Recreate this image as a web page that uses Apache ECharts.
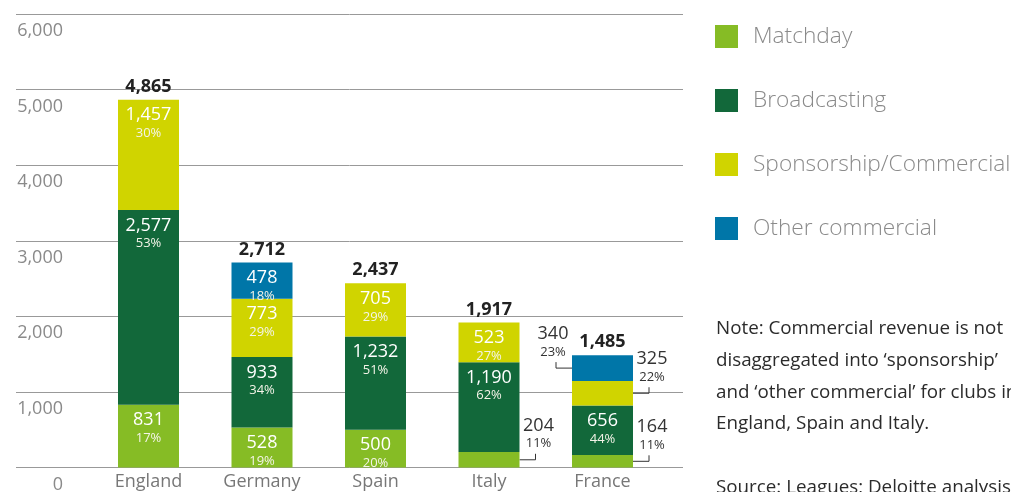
<!DOCTYPE html>
<html>
<head>
<meta charset="utf-8">
<script src="https://cdn.jsdelivr.net/npm/echarts@6/dist/echarts.min.js"></script>
<style>
html, body { margin: 0; padding: 0; background: #fff; }
#chart { width: 1011px; height: 492px; }
</style>
</head>
<body>
<div id="chart"></div>
<script>
// data (EUR m)
var categories = ['England', 'Germany', 'Spain', 'Italy', 'France'];
var seriesNames = ['Matchday', 'Broadcasting', 'Sponsorship/Commercial', 'Other commercial'];
var matchday = [831, 528, 500, 204, 164];
var broadcasting = [2577, 933, 1232, 1190, 656];
var sponsorship = [1457, 773, 705, 523, 325];
var otherCommercial = [null, 478, null, null, 340];
var matchdayPct = [17, 19, 20, 11, 11];
var broadcastingPct = [53, 34, 51, 62, 44];
var sponsorshipPct = [30, 29, 29, 27, 22];
var otherPct = [null, 18, null, null, 23];
var yTicks = [0, 1000, 2000, 3000, 4000, 5000, 6000];
var noteLines = [
  'Note: Commercial revenue is not',
  'disaggregated into \u2018sponsorship\u2019',
  'and \u2018other commercial\u2019 for clubs in',
  'England, Spain and Italy.',
  '',
  'Source: Leagues; Deloitte analysis'
];

var colors = ['#86bc25', '#12683a', '#d0d400', '#0076a8'];
var values = [matchday, broadcasting, sponsorship, otherCommercial];
var pcts = [matchdayPct, broadcastingPct, sponsorshipPct, otherPct];
var SMALL = 400; // segments below this get an outside label
var FONT = '"Open Sans", "DejaVu Sans", sans-serif';

function fmt(n) { return n.toLocaleString('en-US'); }

var totals = categories.map(function(c, i) {
  var s = 0;
  values.forEach(function(arr) { s += arr[i] || 0; });
  return s;
});

var chart = echarts.init(document.getElementById('chart'));

var series = seriesNames.map(function(name, k) {
  return {
    name: name,
    type: 'bar',
    stack: 'rev',
    xAxisIndex: 1,
    yAxisIndex: 1,
    barWidth: 61,
    itemStyle: { color: colors[k] },
    label: {
      position: 'insideTop',
      distance: 6,
      fontFamily: FONT,
      formatter: function(p) {
        return '{v|' + fmt(p.value) + '}\n{p|' + pcts[k][p.dataIndex] + '%}';
      },
      rich: {
        v: { fontSize: 18, lineHeight: 19, color: '#fff', fontFamily: FONT },
        p: { fontSize: 13, lineHeight: 17, color: '#f4f4e8', fontFamily: FONT }
      }
    },
    data: values[k].map(function(v) {
      return { value: v, label: { show: v != null && v >= SMALL } };
    })
  };
});

// invisible zero bar on top of each stack, carries the total
series.push({
  name: 'Total',
  type: 'bar',
  stack: 'rev',
  xAxisIndex: 1,
  yAxisIndex: 1,
  barWidth: 61,
  itemStyle: { color: 'transparent' },
  label: {
    show: true,
    position: 'top',
    distance: 4,
    fontFamily: FONT,
    fontSize: 18,
    fontWeight: 'bold',
    color: '#222',
    formatter: function(p) { return fmt(totals[p.dataIndex]); }
  },
  data: totals.map(function() { return 0; })
});

var option = {
  animation: false,
  grid: [
    { left: 16, right: 328, top: 14, bottom: 24.5, outerBoundsMode: 'none' },
    { left: 91.75, right: 351.75, top: 14, bottom: 24.5, outerBoundsMode: 'none' }
  ],
  legend: {
    orient: 'vertical',
    left: 715,
    top: 25,
    padding: 0,
    icon: 'rect',
    itemWidth: 23,
    itemHeight: 23,
    itemGap: 41,
    selectedMode: false,
    data: seriesNames,
    textStyle: {
      fontFamily: FONT,
      fontSize: 22.7,
      fontWeight: 300,
      lineHeight: 23,
      color: '#8a8a8a',
      padding: [0, 0, 0, 10]
    }
  },
  xAxis: [
    { type: 'category', gridIndex: 0, show: false, data: categories },
    {
      type: 'category',
      gridIndex: 1,
      data: categories,
      axisLine: { show: false },
      axisTick: { show: false },
      axisLabel: { color: '#777', fontSize: 18, fontFamily: FONT, margin: 5 }
    }
  ],
  yAxis: [
    {
      type: 'value',
      gridIndex: 0,
      min: yTicks[0],
      max: yTicks[yTicks.length - 1],
      interval: yTicks[1] - yTicks[0],
      axisLine: { show: false },
      axisTick: { show: false },
      splitLine: { lineStyle: { color: '#999', width: 1 } },
      axisLabel: {
        inside: true,
        margin: 47,
        align: 'right',
        verticalAlign: 'top',
        padding: [8, 0, 0, 0],
        color: '#8a8a8a',
        fontSize: 18,
        fontFamily: FONT,
        formatter: function(v) { return fmt(v); }
      }
    },
    {
      type: 'value',
      gridIndex: 1,
      min: yTicks[0],
      max: yTicks[yTicks.length - 1],
      show: false,
      splitLine: { show: false }
    }
  ],
  series: series
};

chart.setOption(option);

// outside labels with little elbow connectors for the thin segments
var graphics = [];
categories.forEach(function(cat, i) {
  var base = 0;
  values.forEach(function(arr, k) {
    var v = arr[i];
    if (v == null) return;
    if (v < SMALL) {
      var mid = chart.convertToPixel({ xAxisIndex: 1, yAxisIndex: 1 }, [i, base + v / 2]);
      var left = k === 3; // other commercial goes on the left
      var edge = mid[0] + (left ? -30.5 : 30.5);
      var cx = edge + (left ? -16 : 16);
      var y = mid[1];
      graphics.push({
        type: 'polyline',
        shape: { points: [[edge, y], [cx, y], [cx, y - 6]] },
        style: { stroke: '#333', lineWidth: 1, fill: null }
      });
      var tx = cx + (left ? -3 : 3);
      graphics.push({
        type: 'text', x: tx, y: y - 34,
        style: { text: fmt(v), fontSize: 18, fontFamily: FONT, fill: '#333', align: 'center', verticalAlign: 'middle' }
      });
      graphics.push({
        type: 'text', x: tx, y: y - 16,
        style: { text: pcts[k][i] + '%', fontSize: 13, fontFamily: FONT, fill: '#333', align: 'center', verticalAlign: 'middle' }
      });
    }
    base += v;
  });
});

graphics.push({
  type: 'text',
  x: 716,
  y: 313,
  style: {
    text: noteLines.join('\n'),
    fontSize: 18.8,
    lineHeight: 31.7,
    fontFamily: FONT,
    fill: '#2b2b2b',
    align: 'left',
    verticalAlign: 'top'
  }
});

chart.setOption({ graphic: graphics });
</script>
</body>
</html>
